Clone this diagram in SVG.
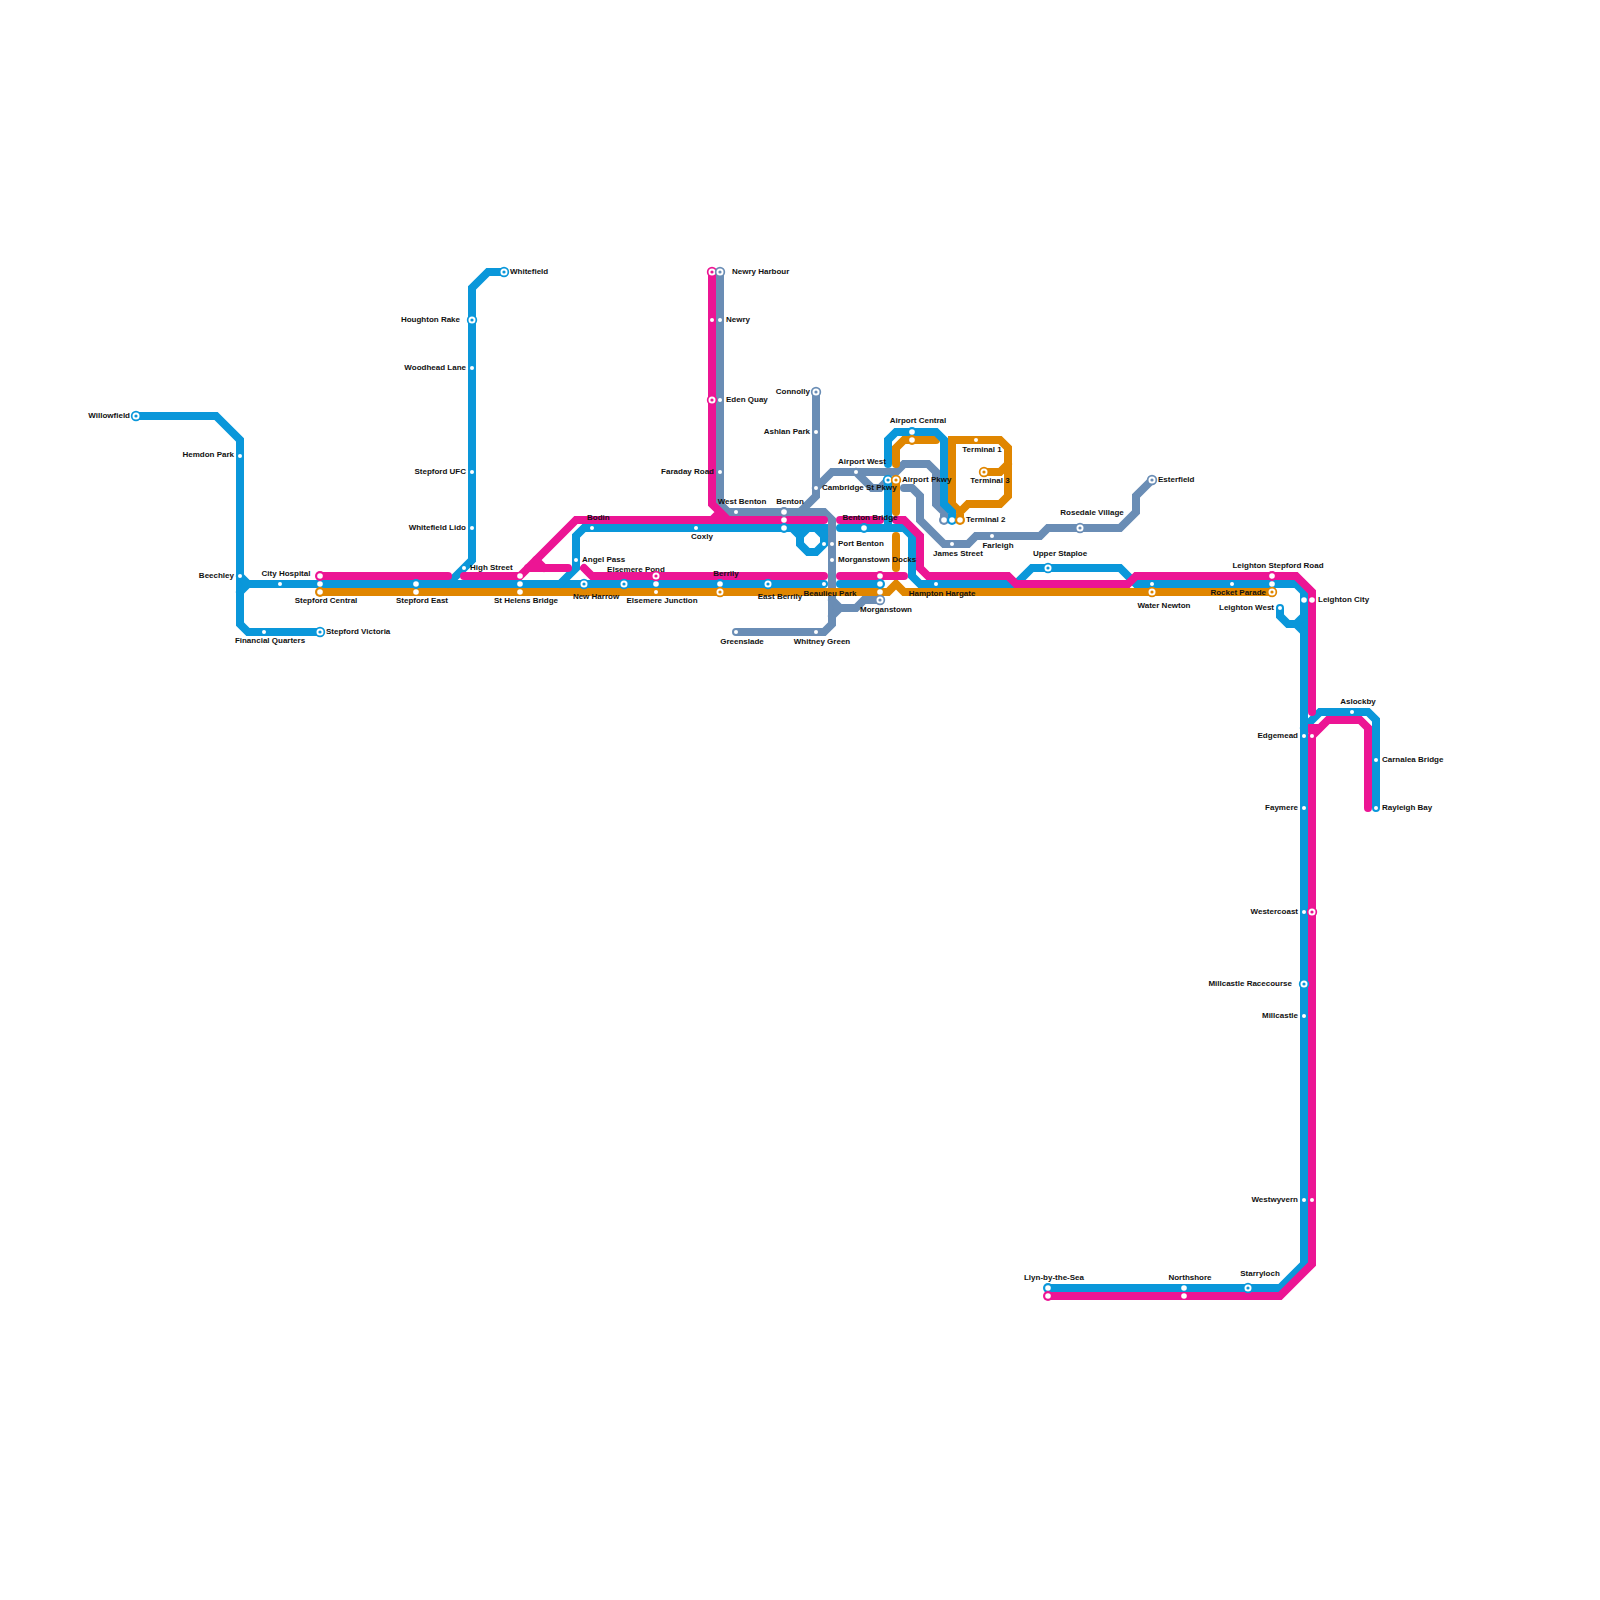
<svg xmlns="http://www.w3.org/2000/svg" width="1600" height="1600" viewBox="0 0 1600 1600">
<style>
.l{fill:none;stroke-width:8;stroke-linecap:round;stroke-linejoin:miter}
.g{stroke:#6a8db5}.o{stroke:#e08600}.b{stroke:#0a97da}.p{stroke:#ec1594}
.cg{fill:#6a8db5}.co{fill:#e08600}.cb{fill:#0a97da}.cp{fill:#ec1594}
text{font-family:"Liberation Sans",Arial,sans-serif;font-size:8px;font-weight:700;fill:#111}
.s{text-anchor:start}.e{text-anchor:end}.m{text-anchor:middle}
</style>
<defs>
<circle id="sm" r="2" fill="#fff"/>
<circle id="big" r="2.8" fill="#fff"/>
<g id="rb"><circle r="5.2" class="cb"/><circle r="3.5" fill="#fff"/><circle r="1.6" class="cb"/></g>
<g id="rp"><circle r="5.2" class="cp"/><circle r="3.5" fill="#fff"/><circle r="1.6" class="cp"/></g>
<g id="ro"><circle r="5.2" class="co"/><circle r="3.5" fill="#fff"/><circle r="1.6" class="co"/></g>
<g id="rg"><circle r="5.2" class="cg"/><circle r="3.5" fill="#fff"/><circle r="1.6" class="cg"/></g>
<g id="hb"><circle r="5" class="cb"/><circle r="2.8" fill="#fff"/></g>
<g id="hp"><circle r="5" class="cp"/><circle r="2.8" fill="#fff"/></g>
<g id="ho"><circle r="5" class="co"/><circle r="2.8" fill="#fff"/></g>
<g id="hg"><circle r="5" class="cg"/><circle r="2.8" fill="#fff"/></g>
</defs>
<g id="connectors">
<g id="grey-lines">
<path class="l g" d="M720 272V504L728 512H824L832 520V624L824 632H736"/>
<path class="l g" d="M816 392V496L800 512"/>
<path class="l g" d="M816 488L832 472H896L904 464H928L936 472V504L944 512V520"/>
<path class="l g" d="M856 472L872 488H880L888 480"/>
<path class="l g" d="M832 600L840 608H856L864 600H880M832 616L840 608"/>
<path class="l g" d="M904 488H912L920 496V520L944 544H968L976 536H1040L1048 528H1120L1136 512V496L1152 480"/>
</g>
<g id="orange-lines">
<path class="l o" d="M320 592H888L896 584L904 592H1272"/>
<path class="l o" d="M896 536V568"/>
<path class="l o" d="M896 480V512"/>
<path class="l o" d="M896 464V448L904 440H936"/>
<path class="l o" d="M960 520V512L952 504V440H1000L1008 448V496L1000 504H968L960 512"/>
<path class="l o" d="M984 472H1000L1008 464"/>
</g>
<g id="blue-lines">
<path class="l b" d="M136 416H216L240 440V624L248 632H320"/>
<path class="l b" d="M240 576L248 584H824M240 592L248 584"/>
<path class="l b" d="M504 272H488L472 288V560L448 584"/>
<path class="l b" d="M560 584L576 568V536L584 528H824V544L816 552H808L800 544V536L792 528"/>
<path class="l b" d="M800 536L808 528M816 528L824 536"/>
<path class="l b" d="M840 584H880"/>
<path class="l b" d="M840 528H904L912 536V576L920 584H1016L1032 568H1120L1136 584H1296L1304 592V1264L1280 1288H1048"/>
<path class="l b" d="M888 480V528"/>
<path class="l b" d="M888 464V440L896 432H936L944 440V504L952 512V520"/>
<path class="l b" d="M1280 608V616L1288 624H1296L1304 632M1296 624L1304 616"/>
<path class="l b" d="M1304 728L1320 712H1368L1376 720V808"/>
</g>
<g id="pink-lines">
<path class="l p" d="M320 576H448"/>
<path class="l p" d="M464 576H520L576 520H824"/>
<path class="l p" d="M528 568H568M536 560L544 568"/>
<path class="l p" d="M584 568L592 576H824"/>
<path class="l p" d="M712 272V504L728 520M712 520L720 512"/>
<path class="l p" d="M840 520H880"/>
<path class="l p" d="M840 576H904"/>
<path class="l p" d="M896 520H904L920 536V568L928 576H1008L1016 584H1128L1136 576H1296L1312 592V712"/>
<path class="l p" d="M1368 808V728L1360 720H1328L1312 736V1264L1280 1296H1048"/>
<path class="l p" d="M1312 732V728H1318"/>
</g>
</g>
<g id="stations">
<g id="willowfield"><use href="#rb" x="136" y="416"/><text class="e" x="130" y="418">Willowfield</text></g>
<g id="hemdon-park"><use href="#sm" x="240" y="456"/><text class="e" x="234" y="457">Hemdon Park</text></g>
<g id="beechley"><use href="#sm" x="240" y="576"/><text class="e" x="234" y="578">Beechley</text></g>
<g id="city-hospital"><use href="#sm" x="280" y="584"/><text class="m" x="286" y="576">City Hospital</text></g>
<g id="stepford-central"><use href="#hp" x="320" y="576"/><use href="#big" x="320" y="584"/><use href="#ho" x="320" y="592"/><text class="m" x="326" y="603">Stepford Central</text></g>
<g id="stepford-east"><use href="#hb" x="416" y="584"/><use href="#big" x="416" y="592"/><text class="m" x="422" y="603">Stepford East</text></g>
<g id="financial-quarters"><use href="#sm" x="264" y="632"/><text class="m" x="270" y="643">Financial Quarters</text></g>
<g id="stepford-victoria"><use href="#rb" x="320" y="632"/><text class="s" x="326" y="634">Stepford Victoria</text></g>
<g id="whitefield"><use href="#rb" x="504" y="272"/><text class="s" x="510" y="274">Whitefield</text></g>
<g id="houghton-rake"><use href="#rb" x="472" y="320"/><text class="e" x="460" y="322">Houghton Rake</text></g>
<g id="woodhead-lane"><use href="#sm" x="472" y="368"/><text class="e" x="466" y="370">Woodhead Lane</text></g>
<g id="stepford-ufc"><use href="#sm" x="472" y="472"/><text class="e" x="466" y="474">Stepford UFC</text></g>
<g id="whitefield-lido"><use href="#sm" x="472" y="528"/><text class="e" x="466" y="530">Whitefield Lido</text></g>
<g id="high-street"><use href="#sm" x="464" y="568"/><text class="s" x="470" y="570">High Street</text></g>
<g id="st-helens-bridge"><use href="#big" x="520" y="576"/><use href="#big" x="520" y="584"/><use href="#big" x="520" y="592"/><text class="m" x="526" y="603">St Helens Bridge</text></g>
<g id="bodin"><use href="#sm" x="592" y="528"/><text class="s" x="587" y="520">Bodin</text></g>
<g id="angel-pass"><use href="#sm" x="576" y="560"/><text class="s" x="582" y="562">Angel Pass</text></g>
<g id="new-harrow"><use href="#rb" x="584" y="584"/><text class="m" x="596" y="599">New Harrow</text></g>
<g id="elsemere-pond"><use href="#rb" x="624" y="584"/><text class="m" x="636" y="572">Elsemere Pond</text></g>
<g id="elsemere-junction"><use href="#rp" x="656" y="576"/><use href="#big" x="656" y="584"/><use href="#sm" x="656" y="592"/><text class="m" x="662" y="603">Elsemere Junction</text></g>
<g id="berrily"><use href="#hb" x="720" y="584"/><use href="#ro" x="720" y="592"/><text class="m" x="726" y="576">Berrily</text></g>
<g id="east-berrily"><use href="#rb" x="768" y="584"/><text class="m" x="780" y="599">East Berrily</text></g>
<g id="beaulieu-park"><use href="#sm" x="824" y="584"/><text class="m" x="830" y="596">Beaulieu Park</text></g>
<g id="coxly"><use href="#sm" x="696" y="528"/><text class="m" x="702" y="539">Coxly</text></g>
<g id="west-benton"><use href="#sm" x="736" y="512"/><text class="m" x="742" y="504">West Benton</text></g>
<g id="benton"><use href="#hg" x="784" y="512"/><use href="#big" x="784" y="520"/><use href="#hb" x="784" y="528"/><text class="m" x="790" y="504">Benton</text></g>
<g id="newry-harbour"><use href="#rp" x="712" y="272"/><use href="#rg" x="720" y="272"/><text class="s" x="732" y="274">Newry Harbour</text></g>
<g id="newry"><use href="#sm" x="712" y="320"/><use href="#sm" x="720" y="320"/><text class="s" x="726" y="322">Newry</text></g>
<g id="eden-quay"><use href="#rp" x="712" y="400"/><use href="#sm" x="720" y="400"/><text class="s" x="726" y="402">Eden Quay</text></g>
<g id="faraday-road"><use href="#sm" x="720" y="472"/><text class="e" x="714" y="474">Faraday Road</text></g>
<g id="connolly"><use href="#rg" x="816" y="392"/><text class="e" x="810" y="394">Connolly</text></g>
<g id="ashlan-park"><use href="#sm" x="816" y="432"/><text class="e" x="810" y="434">Ashlan Park</text></g>
<g id="cambridge-st-pkwy"><use href="#sm" x="816" y="488"/><text class="s" x="822" y="490">Cambridge St Pkwy</text></g>
<g id="airport-west"><use href="#sm" x="856" y="472"/><text class="m" x="862" y="464">Airport West</text></g>
<g id="airport-central"><use href="#hb" x="912" y="432"/><use href="#ho" x="912" y="440"/><text class="m" x="918" y="423">Airport Central</text></g>
<g id="airport-pkwy"><use href="#rb" x="888" y="480"/><use href="#ro" x="896" y="480"/><text class="s" x="902" y="482">Airport Pkwy</text></g>
<g id="terminal-1"><use href="#sm" x="976" y="440"/><text class="m" x="982" y="452">Terminal 1</text></g>
<g id="terminal-3"><use href="#ro" x="984" y="472"/><text class="m" x="990" y="483">Terminal 3</text></g>
<g id="terminal-2"><use href="#hg" x="944" y="520"/><use href="#hb" x="952" y="520"/><use href="#ho" x="960" y="520"/><text class="s" x="966" y="522">Terminal 2</text></g>
<g id="benton-bridge"><use href="#hb" x="864" y="528"/><text class="m" x="870" y="520">Benton Bridge</text></g>
<g id="port-benton"><use href="#sm" x="824" y="544"/><use href="#sm" x="832" y="544"/><text class="s" x="838" y="546">Port Benton</text></g>
<g id="morganstown-docks"><use href="#sm" x="832" y="560"/><text class="s" x="838" y="562">Morganstown Docks</text></g>
<g id="morganstown"><use href="#hp" x="880" y="576"/><use href="#hb" x="880" y="584"/><use href="#big" x="880" y="592"/><use href="#rg" x="880" y="600"/><text class="m" x="886" y="612">Morganstown</text></g>
<g id="hampton-hargate"><use href="#sm" x="936" y="584"/><text class="m" x="942" y="596">Hampton Hargate</text></g>
<g id="greenslade"><use href="#sm" x="736" y="632"/><text class="m" x="742" y="644">Greenslade</text></g>
<g id="whitney-green"><use href="#sm" x="816" y="632"/><text class="m" x="822" y="644">Whitney Green</text></g>
<g id="james-street"><use href="#sm" x="952" y="544"/><text class="m" x="958" y="556">James Street</text></g>
<g id="farleigh"><use href="#sm" x="992" y="536"/><text class="m" x="998" y="548">Farleigh</text></g>
<g id="rosedale-village"><use href="#rg" x="1080" y="528"/><text class="m" x="1092" y="515">Rosedale Village</text></g>
<g id="esterfield"><use href="#rg" x="1152" y="480"/><text class="s" x="1158" y="482">Esterfield</text></g>
<g id="upper-staploe"><use href="#rb" x="1048" y="568"/><text class="m" x="1060" y="556">Upper Staploe</text></g>
<g id="water-newton"><use href="#sm" x="1152" y="584"/><use href="#ro" x="1152" y="592"/><text class="m" x="1164" y="608">Water Newton</text></g>
<g id="rocket-parade"><use href="#sm" x="1232" y="584"/><text class="e" x="1266" y="595">Rocket Parade</text></g>
<g id="leighton-stepford-road"><use href="#hp" x="1272" y="576"/><use href="#big" x="1272" y="584"/><use href="#ro" x="1272" y="592"/><text class="m" x="1278" y="568">Leighton Stepford Road</text></g>
<g id="leighton-west"><use href="#sm" x="1280" y="608"/><text class="e" x="1274" y="610">Leighton West</text></g>
<g id="leighton-city"><use href="#big" x="1304" y="600"/><use href="#big" x="1312" y="600"/><text class="s" x="1318" y="602">Leighton City</text></g>
<g id="aslockby"><use href="#sm" x="1352" y="712"/><text class="m" x="1358" y="704">Aslockby</text></g>
<g id="carnalea-bridge"><use href="#sm" x="1376" y="760"/><text class="s" x="1382" y="762">Carnalea Bridge</text></g>
<g id="rayleigh-bay"><use href="#sm" x="1376" y="808"/><text class="s" x="1382" y="810">Rayleigh Bay</text></g>
<g id="edgemead"><use href="#sm" x="1304" y="736"/><use href="#sm" x="1312" y="736"/><text class="e" x="1298" y="738">Edgemead</text></g>
<g id="faymere"><use href="#sm" x="1304" y="808"/><text class="e" x="1298" y="810">Faymere</text></g>
<g id="westercoast"><use href="#sm" x="1304" y="912"/><use href="#rp" x="1312" y="912"/><text class="e" x="1298" y="914">Westercoast</text></g>
<g id="millcastle-racecourse"><use href="#rb" x="1304" y="984"/><text class="e" x="1292" y="986">Millcastle Racecourse</text></g>
<g id="millcastle"><use href="#sm" x="1304" y="1016"/><text class="e" x="1298" y="1018">Millcastle</text></g>
<g id="westwyvern"><use href="#sm" x="1304" y="1200"/><use href="#sm" x="1312" y="1200"/><text class="e" x="1298" y="1202">Westwyvern</text></g>
<g id="llyn-by-the-sea"><use href="#hb" x="1048" y="1288"/><use href="#hp" x="1048" y="1296"/><text class="m" x="1054" y="1280">Llyn-by-the-Sea</text></g>
<g id="northshore"><use href="#big" x="1184" y="1288"/><use href="#big" x="1184" y="1296"/><text class="m" x="1190" y="1280">Northshore</text></g>
<g id="starryloch"><use href="#rb" x="1248" y="1288"/><text class="m" x="1260" y="1276">Starryloch</text></g>
</g>
</svg>
